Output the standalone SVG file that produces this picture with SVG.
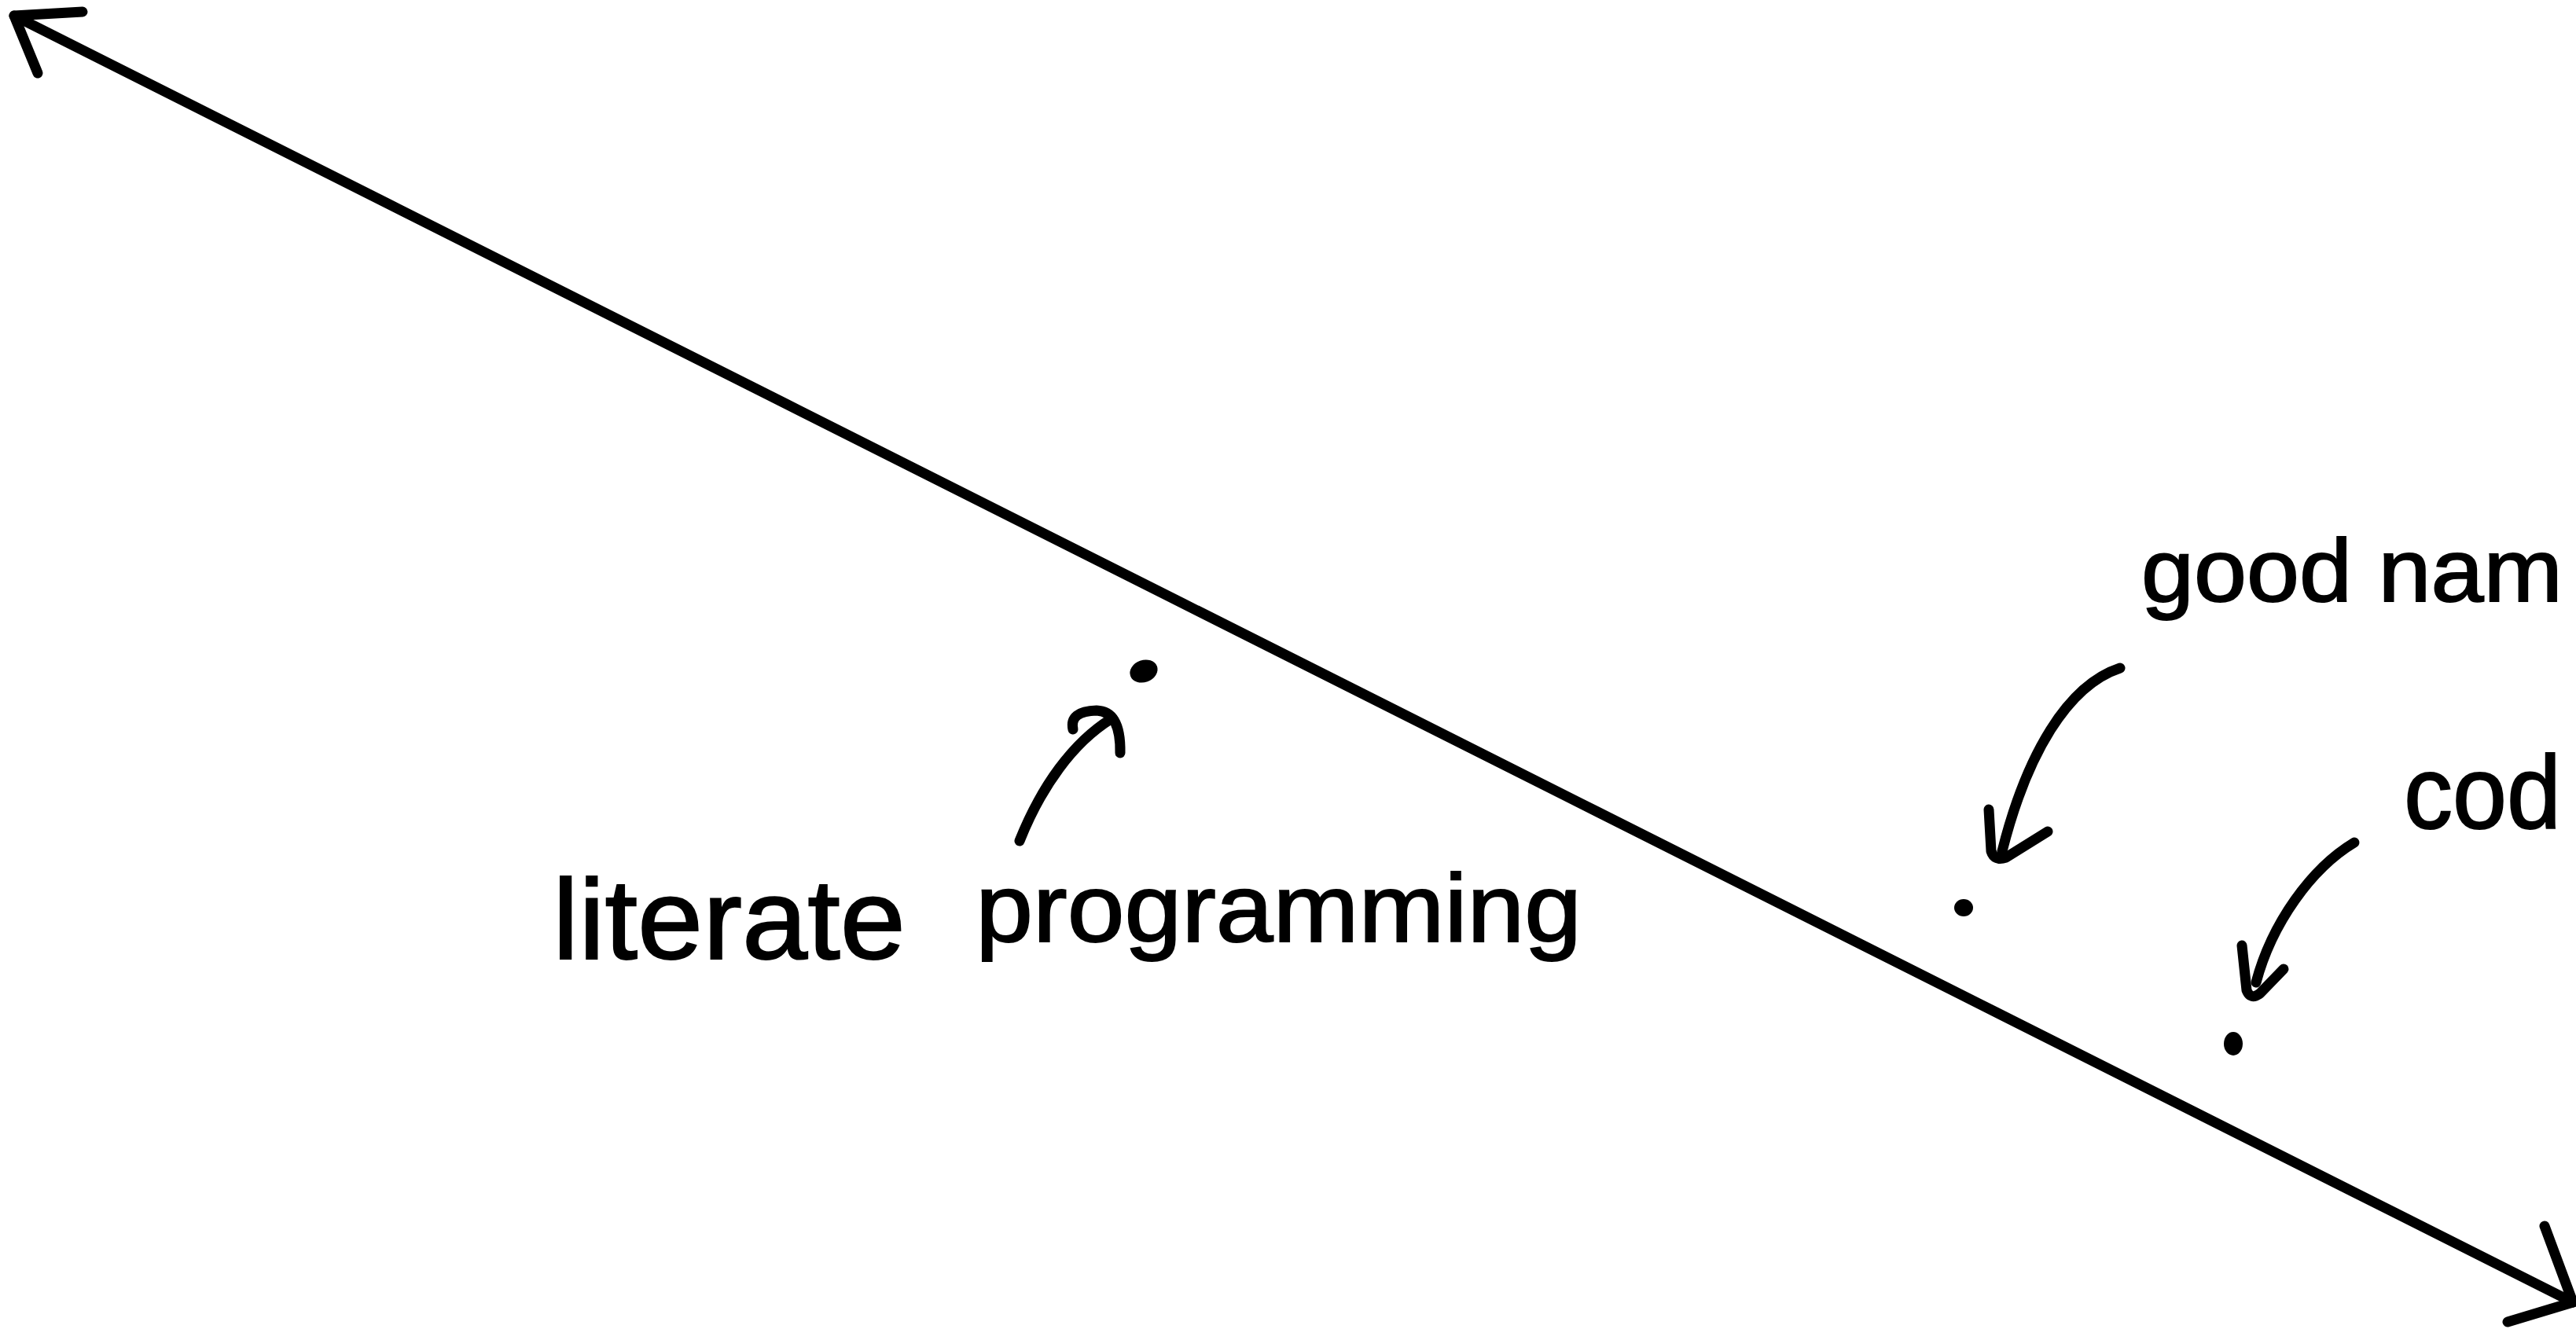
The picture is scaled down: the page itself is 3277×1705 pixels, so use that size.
<svg xmlns="http://www.w3.org/2000/svg" width="3277" height="1705" viewBox="0 0 3277 1705">
<style>
.ink{fill:none;stroke:#000;stroke-width:13;stroke-linecap:round;stroke-linejoin:round}
.hand{font-family:"Liberation Sans","DejaVu Sans",sans-serif;fill:#000;stroke:#000;stroke-width:2}
.dot{fill:#000}
</style>
<rect x="0" y="0" width="3277" height="1705" fill="#fff"/>
<g id="connectors">
<g id="axis">
<path class="ink" d="M18,20 L3273,1657"/>
<path class="ink" d="M105,15 L18,20 L48,93"/>
<path class="ink" d="M3237,1560 L3273,1657 L3190,1682"/>
</g>
<g id="arrow-literate">
<path class="ink" d="M1297,1070 C1325,1000 1365,945 1413,915"/>
<path class="ink" d="M1365,928 Q1360,905 1395,904 Q1426,905 1425,958"/>
</g>
<g id="arrow-goodnames">
<path class="ink" d="M2697,850 C2630,872 2578,960 2547,1083"/>
<path class="ink" d="M2530,1030 L2533,1083 Q2537,1096 2552,1091 L2605,1058"/>
</g>
<g id="arrow-code">
<path class="ink" d="M2995,1072 C2940,1105 2890,1175 2870,1250"/>
<path class="ink" d="M2852,1203 L2858,1260 Q2863,1273 2875,1264 L2905,1233"/>
</g>
</g>
<g id="dot-literate"><ellipse class="dot" cx="1455" cy="854" rx="18" ry="14" transform="rotate(-20 1455 854)"/></g>
<g id="dot-goodnames"><ellipse class="dot" cx="2498" cy="1155" rx="12" ry="11"/></g>
<g id="dot-code"><ellipse class="dot" cx="2841" cy="1328" rx="12" ry="15"/></g>
<g id="label-literate">
<text class="hand"><tspan x="703" y="1220" font-size="145" textLength="449" lengthAdjust="spacingAndGlyphs">literate</tspan><tspan x="1205" y="1198" font-size="122" textLength="807" lengthAdjust="spacingAndGlyphs"> programming</tspan></text>
</g>
<g id="label-goodnames">
<text class="hand" font-size="114" x="2724" y="765" textLength="536" lengthAdjust="spacingAndGlyphs">good nam</text>
</g>
<g id="label-code">
<text class="hand" font-size="132" x="3058" y="1054" textLength="200" lengthAdjust="spacingAndGlyphs">cod</text>
</g>
</svg>
